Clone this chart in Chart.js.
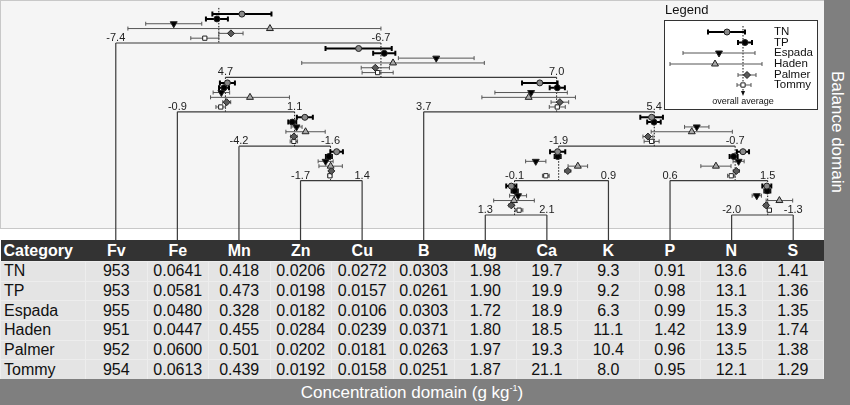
<!DOCTYPE html>
<html>
<head>
<meta charset="utf-8">
<script src="https://cdn.jsdelivr.net/npm/chart.js@4.4.1/dist/chart.umd.min.js"></script>
<style>
  body { margin: 0; width: 850px; height: 405px; position: relative; overflow: hidden; background: #fff;
         font-family: "Liberation Sans", Arial, sans-serif; }
  #plot { position: absolute; left: 0; top: 0; width: 824px; height: 240px; }
  #side { position: absolute; left: 824px; top: 0; width: 26px; height: 405px; background: #7f7f7f; }
  #sideText { position: absolute; left: 827px; top: 71px; writing-mode: vertical-rl; color: #fff; font-size: 17px; }
  #bottom { position: absolute; left: 0; top: 379px; width: 850px; height: 26px; background: #7f7f7f; }
  #bottomText { position: absolute; left: 0; top: 377px; width: 824px; line-height: 22px; text-align: center;
                color: #fff; font-size: 17px; }
  #bottomText sup { font-size: 9px; }
  table { position: absolute; left: 0; top: 240px; width: 824px; border-collapse: collapse; table-layout: fixed; }
  th { background: #333; color: #fff; font-size: 16px; font-weight: bold; padding: 0; height: 21px; text-align: center; }
  th:first-child, td:first-child { text-align: left; padding-left: 3px; }
  td { background: #e4e4e4; color: #111; font-size: 16px; padding: 0; height: 18.7px; text-align: center;
       border: 1px solid #ededed; }
</style>
</head>
<body>
<div id="plot"><canvas id="c" width="824" height="240"></canvas></div>
<div id="side"></div>
<div id="sideText">Balance domain</div>
<table id="tbl"></table>
<div id="bottom"></div>
<div id="bottomText">Concentration domain (g kg<sup>-1</sup>)</div>
<script>
// parts (leaves of the dendrogram, also the table columns)
const leaves = ['Fv', 'Fe', 'Mn', 'Zn', 'Cu', 'B', 'Mg', 'Ca', 'K', 'P', 'N', 'S'];
const cultivars = ['TN', 'TP', 'Espada', 'Haden', 'Palmer', 'Tommy'];

// balances: children, range shown at the bar ends, overall mean, depth
const nodeNames = ['b1', 'b2', 'b3', 'b4', 'b5', 'b6', 'b7', 'b8', 'b9', 'b10', 'b11'];
const nodeLeft  = ['Fv', 'b3', 'Fe', 'B', 'Mn', 'Zn', 'b8', 'b10', 'P', 'Mg', 'N'];
const nodeRight = ['b2', 'b4', 'b5', 'b7', 'b6', 'Cu', 'b9', 'K', 'b11', 'Ca', 'S'];
const nodeMin   = [-7.4, 4.7, -0.9, 3.7, -4.2, -1.7, -1.9, -0.1, 0.6, 1.3, -2.0];
const nodeMax   = [-6.7, 7.0, 1.1, 5.4, -1.6, 1.4, -0.7, 0.9, 1.5, 2.1, -1.3];
const nodeMean  = [-7.128, 5.78, -0.08, 4.68, -2.62, -0.19, -1.25, 0.37, 1.20, 1.68, -1.59];
const nodeDepth = [0, 1, 2, 2, 3, 4, 3, 4, 4, 5, 5];

// cultivar balance means and half-widths of the intervals, in node order b1..b11
const tnMean     = [-7.067, 5.625, -0.046, 4.556, -2.329, 0.117, -1.268, 0.359, 1.272, 1.638, -1.600];
const tnErr      = [0.078, 0.230, 0.128, 0.131, 0.227, 0.317, 0.077, 0.081, 0.056, 0.066, 0.051];
const tpMean     = [-7.133, 5.803, -0.104, 4.685, -2.686, -0.271, -1.252, 0.359, 1.186, 1.682, -1.594];
const tpErr      = [0.029, 0.077, 0.085, 0.056, 0.113, 0.151, 0.046, 0.032, 0.037, 0.040, 0.034];
const espadaMean = [-7.247, 6.164, -0.149, 4.492, -2.564, -0.437, -0.961, 0.126, 1.232, 1.726, -1.714];
const espadaErr  = [0.074, 0.263, 0.141, 0.267, 0.156, 0.377, 0.083, 0.108, 0.051, 0.110, 0.053];
const hadenMean  = [-6.993, 5.864, 0.339, 4.474, -2.309, -0.185, -0.995, 0.574, 1.023, 1.673, -1.457];
const hadenErr   = [0.375, 0.634, 0.673, 0.345, 0.558, 0.589, 0.276, 0.104, 0.139, 0.264, 0.151];
const palmerMean = [-7.096, 5.741, -0.058, 4.704, -2.641, -0.150, -1.293, 0.467, 1.211, 1.638, -1.608];
const palmerErr  = [0.032, 0.098, 0.068, 0.065, 0.094, 0.100, 0.034, 0.032, 0.028, 0.033, 0.023];
const tommyMean  = [-7.165, 5.757, -0.160, 4.685, -2.641, -0.221, -1.268, 0.233, 1.164, 1.739, -1.571];
const tommyErr   = [0.037, 0.108, 0.082, 0.059, 0.105, 0.100, 0.051, 0.036, 0.034, 0.049, 0.023];

// concentration table (g/kg), one array per part
const Fv = [953, 953, 955, 951, 952, 954];
const Fe = [0.0641, 0.0581, 0.0480, 0.0447, 0.0600, 0.0613];
const Mn = [0.418, 0.473, 0.328, 0.455, 0.501, 0.439];
const Zn = [0.0206, 0.0198, 0.0182, 0.0284, 0.0202, 0.0192];
const Cu = [0.0272, 0.0157, 0.0106, 0.0239, 0.0181, 0.0158];
const B  = [0.0303, 0.0261, 0.0303, 0.0371, 0.0263, 0.0251];
const Mg = [1.98, 1.90, 1.72, 1.80, 1.97, 1.87];
const Ca = [19.7, 19.9, 18.9, 18.5, 19.3, 21.1];
const K  = [9.3, 9.2, 6.3, 11.1, 10.4, 8.0];
const P  = [0.91, 0.98, 0.99, 1.42, 0.96, 0.95];
const N  = [13.6, 13.1, 15.3, 13.9, 13.5, 12.1];
const S  = [1.41, 1.36, 1.35, 1.74, 1.38, 1.29];
const decimals = [0, 4, 3, 4, 4, 4, 2, 1, 1, 2, 1, 2];

const means = [tnMean, tpMean, espadaMean, hadenMean, palmerMean, tommyMean];
const errs = [tnErr, tpErr, espadaErr, hadenErr, palmerErr, tommyErr];

// marker looks
const mStyle = ['circle', 'circle', 'triangle', 'triangle', 'rectRot', 'rect'];
const mFill = ['#8a8a8a', '#000000', '#000000', '#a8a8a8', '#5a5a5a', '#ffffff'];
const mRot = [0, 0, 180, 0, 0, 0];
const mRadius = [3, 3, 4, 4, 3.5, 3];
const eWidth = [2, 2, 1, 1, 1, 1];
const eColor = ['#000', '#000', '#555', '#555', '#555', '#555'];

// table
const cols = [Fv, Fe, Mn, Zn, Cu, B, Mg, Ca, K, P, N, S];
let html = '<colgroup><col style="width:85px">' + leaves.map(() => '<col>').join('') + '</colgroup>';
html += '<tr><th>Category</th>' + leaves.map(l => '<th>' + l + '</th>').join('') + '</tr>';
cultivars.forEach((c, r) => {
    html += '<tr><td>' + c + '</td>' + cols.map((col, j) => '<td>' + col[r].toFixed(decimals[j]) + '</td>').join('') + '</tr>';
});
document.getElementById('tbl').innerHTML = html;

// position along x (leaf columns), a node's bar runs between its children
function attach(ref) {
    if (leaves.includes(ref)) return leaves.indexOf(ref);
    const i = nodeNames.indexOf(ref);
    return nodeX(i, nodeMean[i]);
}
function nodeX(i, v) {
    const a = attach(nodeLeft[i]), b = attach(nodeRight[i]);
    return a + (v - nodeMin[i]) / (nodeMax[i] - nodeMin[i]) * (b - a);
}
const yBottom = 5.727;

const datasets = [];
const lineDs = (data, dash) => ({ data, showLine: true, pointRadius: 0, borderColor: dash ? '#111' : '#3a3a3a',
    borderWidth: dash ? 1 : 1.2, borderDash: dash ? [1.5, 1.5] : [], order: 5 });

nodeNames.forEach((n, i) => {
    const d = nodeDepth[i];
    const a = attach(nodeLeft[i]), b = attach(nodeRight[i]);
    datasets.push(lineDs([{ x: a, y: d }, { x: b, y: d }], false));
    const m = attach(n);
    datasets.push(lineDs([{ x: m, y: i === 0 ? -1.02 : d - 1 }, { x: m, y: d }], true));
    [nodeLeft[i], nodeRight[i]].forEach(ch => {
        if (leaves.includes(ch)) datasets.push(lineDs([{ x: leaves.indexOf(ch), y: d }, { x: leaves.indexOf(ch), y: yBottom }], false));
    });
});

cultivars.forEach((c, k) => {
    datasets.push({
        label: c, kind: 'marker', k: k, order: 1,
        data: nodeNames.map((n, i) => {
            const v = means[k][i], e = errs[k][i];
            return {
                x: nodeX(i, v),
                y: nodeDepth[i] - 0.84 + 0.14 * k,
                lo: nodeX(i, Math.max(v - e, nodeMin[i])),
                hi: nodeX(i, Math.min(v + e, nodeMax[i]))
            };
        }),
        pointStyle: mStyle[k], rotation: mRot[k], pointRadius: mRadius[k],
        backgroundColor: mFill[k], borderColor: '#222', borderWidth: 1
    });
});

function errLine(ctx, x1, x2, y, k) {
    const h = k < 2 ? 2.5 : 2;
    ctx.save();
    ctx.strokeStyle = eColor[k];
    ctx.lineWidth = eWidth[k];
    ctx.beginPath();
    ctx.moveTo(x1, y); ctx.lineTo(x2, y);
    ctx.moveTo(x1, y - h); ctx.lineTo(x1, y + h);
    ctx.moveTo(x2, y - h); ctx.lineTo(x2, y + h);
    ctx.stroke();
    ctx.restore();
}
function marker(ctx, x, y, k) {
    ctx.save();
    ctx.fillStyle = mFill[k];
    ctx.strokeStyle = '#222';
    ctx.lineWidth = 1;
    Chart.helpers.drawPoint(ctx, { pointStyle: mStyle[k], rotation: mRot[k], radius: mRadius[k], borderWidth: 1 }, x, y);
    ctx.restore();
}

const panelBg = {
    id: 'panelBg',
    beforeDraw(chart) {
        const ctx = chart.ctx;
        ctx.save();
        ctx.fillStyle = '#f5f5f5';
        ctx.fillRect(0, 0, 824, 229);
        ctx.strokeStyle = '#c8c8c8';
        ctx.lineWidth = 1;
        ctx.strokeRect(0.5, 0.5, 830, 228);
        ctx.restore();
    }
};

const errorBars = {
    id: 'errorBars',
    beforeDatasetDraw(chart, args) {
        const ds = chart.data.datasets[args.index];
        if (ds.kind !== 'marker') return;
        const xs = chart.scales.x, ys = chart.scales.y;
        ds.data.forEach(p => errLine(chart.ctx, xs.getPixelForValue(p.lo), xs.getPixelForValue(p.hi), ys.getPixelForValue(p.y), ds.k));
    }
};

const nodeLabels = {
    id: 'nodeLabels',
    afterDatasetsDraw(chart) {
        const ctx = chart.ctx, xs = chart.scales.x, ys = chart.scales.y;
        ctx.save();
        ctx.font = '11px "Liberation Sans", Arial, sans-serif';
        ctx.fillStyle = '#222';
        ctx.textAlign = 'center';
        ctx.textBaseline = 'alphabetic';
        nodeNames.forEach((n, i) => {
            const y = ys.getPixelForValue(nodeDepth[i]) - 2;
            ctx.fillText(nodeMin[i].toFixed(1), xs.getPixelForValue(attach(nodeLeft[i])), y);
            ctx.fillText(nodeMax[i].toFixed(1), xs.getPixelForValue(attach(nodeRight[i])), y);
        });
        ctx.restore();
    }
};

// legend sample positions inside the box (pixels)
const legX = [727, 745, 719, 715, 747, 743];
const legLo = [708, 738, 683, 670, 738, 737];
const legHi = [745, 752, 755, 762, 756, 751];
const legY = [32, 42.5, 53, 64, 75, 85];

const legendBox = {
    id: 'legendBox',
    afterDraw(chart) {
        const ctx = chart.ctx;
        ctx.save();
        ctx.fillStyle = '#111';
        ctx.font = '13px "Liberation Sans", Arial, sans-serif';
        ctx.textAlign = 'left';
        ctx.textBaseline = 'alphabetic';
        ctx.fillText('Legend', 665, 14);
        ctx.fillStyle = '#fff';
        ctx.fillRect(664.5, 20.5, 153, 89);
        ctx.strokeStyle = '#333';
        ctx.lineWidth = 1;
        ctx.strokeRect(664.5, 20.5, 153, 89);
        ctx.setLineDash([1.5, 1.5]);
        ctx.strokeStyle = '#111';
        ctx.beginPath();
        ctx.moveTo(743, 26); ctx.lineTo(743, 92);
        ctx.stroke();
        ctx.setLineDash([]);
        ctx.fillStyle = '#111';
        ctx.beginPath();
        ctx.moveTo(741, 91); ctx.lineTo(745, 91); ctx.lineTo(743, 96); ctx.closePath();
        ctx.fill();
        ctx.font = '9px "Liberation Sans", Arial, sans-serif';
        ctx.textAlign = 'center';
        ctx.fillText('overall average', 743, 104);
        ctx.restore();
        cultivars.forEach((c, k) => {
            errLine(ctx, legLo[k], legHi[k], legY[k], k);
            marker(ctx, legX[k], legY[k], k);
            ctx.save();
            ctx.fillStyle = '#111';
            ctx.font = '11.5px "Liberation Sans", Arial, sans-serif';
            ctx.textBaseline = 'middle';
            ctx.fillText(c, 774, legY[k]);
            ctx.restore();
        });
    }
};

new Chart(document.getElementById('c'), {
    type: 'scatter',
    data: { datasets },
    options: {
        responsive: false,
        animation: false,
        events: [],
        layout: { padding: 0, autoPadding: false },
        plugins: { legend: { display: false }, tooltip: { enabled: false } },
        scales: {
            x: { type: 'linear', min: -1.88, max: 11.5, display: false },
            y: { type: 'linear', min: -1.25, max: yBottom, reverse: true, display: false }
        }
    },
    plugins: [panelBg, errorBars, nodeLabels, legendBox]
});
</script>
</body>
</html>
